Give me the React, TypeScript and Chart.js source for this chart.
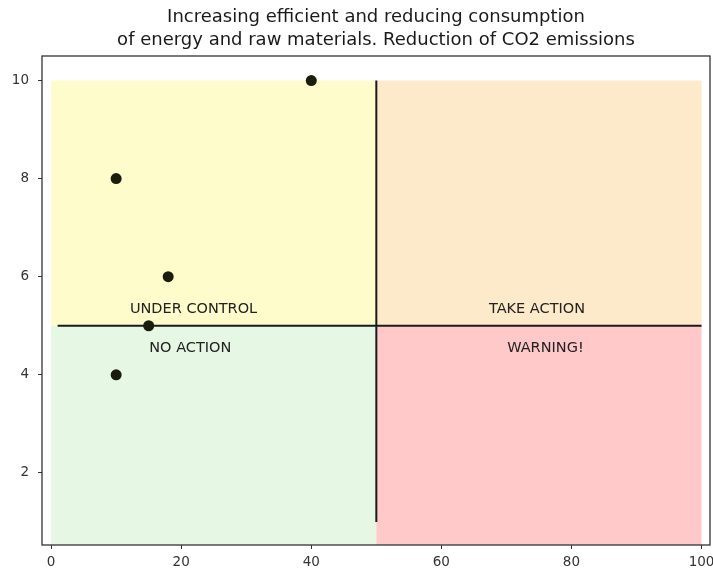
import React, { useEffect, useRef } from 'react';
import { Chart, registerables } from 'chart.js';

Chart.register(...registerables);

const titleLines = [
  'Increasing efficient and reducing consumption',
  'of energy and raw materials. Reduction of CO2 emissions',
];
const pointX = [40, 10, 18, 15, 10];
const pointY = [10, 8, 6, 5, 4];
const hLineX = [1, 100];
const hLineY = [5, 5];
const vLineX = [50, 50];
const vLineY = [1, 10];
const xTicks = [0, 20, 40, 60, 80, 100];
const yTicks = [2, 4, 6, 8, 10];
const quadrantLabels = ['UNDER CONTROL', 'NO ACTION', 'TAKE ACTION', 'WARNING!'];
const labelX = [21.9, 21.4, 74.7, 76.0];
const labelY = [5.34, 4.55, 5.34, 4.55];
const quadX0 = [0, 50, 0, 50];
const quadX1 = [50, 100, 50, 100];
const quadY0 = [5, 5, 0, 0];
const quadY1 = [10, 10, 5, 5];
const quadColors = ['#fffccc', '#fdeaca', '#e6f8e4', '#fec9c8'];

const FONT = "'DejaVu Sans', sans-serif";

const quadrantPlugin = {
  id: 'quadrants',
  beforeDatasetsDraw(chart: any) {
    const { ctx, chartArea, scales } = chart;
    const xs = scales.x;
    const ys = scales.y;
    ctx.save();
    ctx.beginPath();
    ctx.rect(chartArea.left, chartArea.top, chartArea.right - chartArea.left, chartArea.bottom - chartArea.top);
    ctx.clip();
    for (let i = 0; i < quadColors.length; i++) {
      const x0 = xs.getPixelForValue(quadX0[i]);
      const x1 = xs.getPixelForValue(quadX1[i]);
      const y0 = ys.getPixelForValue(quadY0[i]);
      const y1 = ys.getPixelForValue(quadY1[i]);
      ctx.fillStyle = quadColors[i];
      ctx.fillRect(x0, y1, x1 - x0, y0 - y1);
    }
    ctx.restore();
  },
  afterDatasetsDraw(chart: any) {
    const { ctx, chartArea, scales } = chart;
    const xs = scales.x;
    const ys = scales.y;
    ctx.save();
    ctx.fillStyle = '#222222';
    ctx.font = `14.5px ${FONT}`;
    ctx.textAlign = 'center';
    ctx.textBaseline = 'middle';
    for (let i = 0; i < quadrantLabels.length; i++) {
      ctx.fillText(quadrantLabels[i], xs.getPixelForValue(labelX[i]), ys.getPixelForValue(labelY[i]));
    }
    ctx.strokeStyle = '#333333';
    ctx.lineWidth = 1.3;
    ctx.strokeRect(chartArea.left, chartArea.top, chartArea.right - chartArea.left, chartArea.bottom - chartArea.top);
    ctx.restore();
  },
};

export default function App() {
  const ref = useRef<HTMLCanvasElement | null>(null);
  useEffect(() => {
    if (!ref.current) return;
    const chart = new Chart(ref.current, {
      type: 'scatter',
      data: {
        datasets: [
          {
            label: 'points',
            data: pointX.map((x, i) => ({ x, y: pointY[i] })),
            backgroundColor: '#1a1d0d',
            borderColor: '#1a1d0d',
            pointRadius: 5.5,
            borderWidth: 0,
          },
          {
            label: 'h',
            data: hLineX.map((x, i) => ({ x, y: hLineY[i] })),
            showLine: true,
            borderColor: '#1a1a1a',
            borderWidth: 2,
            pointRadius: 0,
          },
          {
            label: 'v',
            data: vLineX.map((x, i) => ({ x, y: vLineY[i] })),
            showLine: true,
            borderColor: '#1a1a1a',
            borderWidth: 2,
            pointRadius: 0,
          },
        ],
      },
      options: {
        animation: false,
        responsive: false,
        events: [],
        layout: { autoPadding: false, padding: { left: 0, right: 3, top: 0, bottom: 0 } },
        plugins: {
          legend: { display: false },
          tooltip: { enabled: false },
          title: {
            display: true,
            text: titleLines,
            fullSize: false,
            color: '#1a1a1a',
            font: { family: FONT, size: 18, weight: 'normal', lineHeight: 23 / 18 },
            padding: { top: 6, bottom: 4 },
          },
        },
        scales: {
          x: {
            type: 'linear',
            min: -1.4,
            max: 101.3,
            afterBuildTicks: (s: any) => {
              s.ticks = xTicks.map((v) => ({ value: v }));
            },
            afterFit: (s: any) => {
              s.height = 26;
              s.paddingLeft = 0;
              s.paddingRight = 0;
            },
            ticks: { color: '#333333', font: { family: FONT, size: 13.5 }, padding: 5, maxRotation: 0 },
            grid: { display: true, drawOnChartArea: false, drawTicks: true, tickLength: 4, color: '#333333' },
            border: { display: false },
          },
          y: {
            type: 'linear',
            min: 0.53,
            max: 10.5,
            afterBuildTicks: (s: any) => {
              s.ticks = yTicks.map((v) => ({ value: v }));
            },
            afterFit: (s: any) => {
              s.width = 42;
              s.paddingTop = 0;
              s.paddingBottom = 0;
            },
            ticks: { color: '#333333', font: { family: FONT, size: 13.5 }, padding: 9 },
            grid: { display: true, drawOnChartArea: false, drawTicks: true, tickLength: 4, color: '#333333' },
            border: { display: false },
          },
        },
      },
      plugins: [quadrantPlugin],
    } as any);
    return () => chart.destroy();
  }, []);
  return (
    <div style={{ position: 'fixed', left: 0, top: 0, width: 713, height: 571, background: '#ffffff' }}>
      <canvas ref={ref} width={713} height={571} />
    </div>
  );
}
